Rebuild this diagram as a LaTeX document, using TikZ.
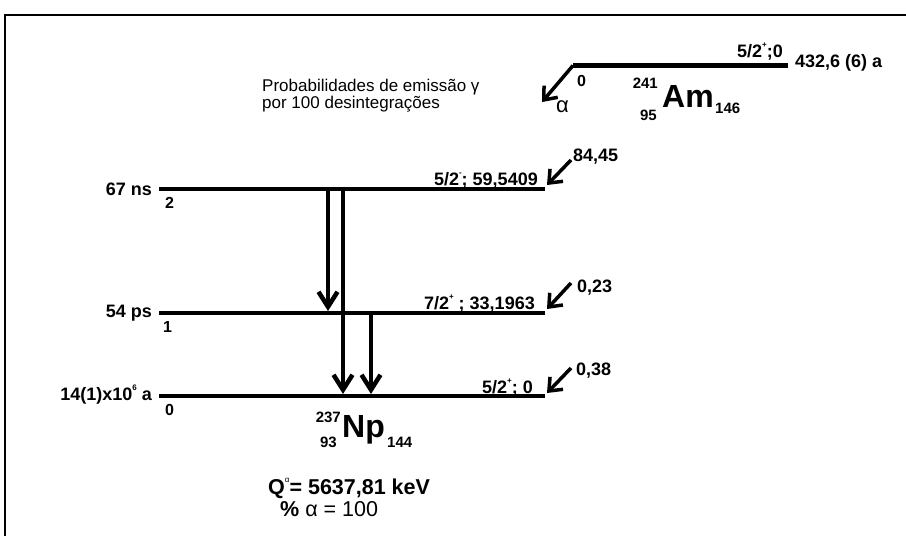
\documentclass[tikz,border=0pt]{standalone}
\usepackage{fontspec}
\setmainfont{Liberation Sans}
\usetikzlibrary{arrows.meta}
\newcommand\sps[1]{\raisebox{0.55em}{\fontsize{8}{8}\selectfont #1}}
\begin{document}
\begin{tikzpicture}[x=1pt,y=-1pt,
  levelline/.style={line width=4.5pt},
  gam/.style={line width=4.5pt,-{Straight Barb[length=15pt,width=19pt]}},
  feed/.style={line width=3.5pt,-{Straight Barb[length=11pt,width=18pt]}},
  lab/.style={font=\fontsize{18}{20}\selectfont\bfseries, inner sep=0pt},
  num/.style={font=\fontsize{16}{18}\selectfont\bfseries, inner sep=0pt},
  iso/.style={font=\fontsize{32}{34}\selectfont\bfseries, inner sep=0pt},
  isn/.style={font=\fontsize{15}{16}\selectfont\bfseries, inner sep=0pt},
  txt/.style={font=\fontsize{17}{18}\selectfont, inner sep=0pt, align=left},
  big/.style={font=\fontsize{21.5}{23}\selectfont, inner sep=0pt}]
\useasboundingbox (0,0) rectangle (906,536);
% frame
\draw[line width=2pt] (906,15) -- (5,15) -- (5,536);
% level coordinates
\coordinate (amL) at (573,65.5); \coordinate (amR) at (788,65.5);
\coordinate (l2L) at (159,189); \coordinate (l2R) at (545,189);
\coordinate (l1L) at (159,313); \coordinate (l1R) at (545,313);
\coordinate (l0L) at (159,396); \coordinate (l0R) at (545,396);
\draw[levelline] (amL) -- (amR);
\draw[levelline] (l2L) -- (l2R);
\draw[levelline] (l1L) -- (l1R);
\draw[levelline] (l0L) -- (l0R);
% alpha arrow
\coordinate (alphaTip) at (542,102);
\draw[feed] (amL) -- (alphaTip);
\node[anchor=base west, inner sep=0pt, font=\fontsize{22}{24}\selectfont] (alpha) at (556,112) {α};
% gamma transitions
\coordinate (g21s) at (328,189); \coordinate (g21e) at (328,311);
\coordinate (g20s) at (343,189); \coordinate (g20e) at (343,394);
\coordinate (g10s) at (371,313); \coordinate (g10e) at (371,394);
\draw[gam] (g21s) -- (g21e);
\draw[gam] (g20s) -- (g20e);
\draw[gam] (g10s) -- (g10e);
% feeding arrows
\coordinate (f2s) at (571,160); \coordinate (f2e) at (547,185);
\coordinate (f1s) at (571,283); \coordinate (f1e) at (547,309);
\coordinate (f0s) at (571,368); \coordinate (f0e) at (547,393);
\draw[feed] (f2s) -- (f2e);
\draw[feed] (f1s) -- (f1e);
\draw[feed] (f0s) -- (f0e);
\node[lab, anchor=base west] (p2) at (573,161) {84,45};
\node[lab, anchor=base west] (p1) at (577,292) {0,23};
\node[lab, anchor=base west] (p0) at (576,375) {0,38};
% level labels right
\node[lab, anchor=base east] (e2) at (538,185) {5/2\sps{-}; 59,5409};
\node[lab, anchor=base east] (e1) at (535,309) {7/2\sps{+} ; 33,1963};
\node[lab, anchor=base east] (e0) at (533,393) {5/2\sps{+}; 0};
% half-lives left
\node[lab, anchor=base east] (t2) at (152,195) {67 ns};
\node[lab, anchor=base east] (t1) at (152,317) {54 ps};
\node[lab, anchor=base east] (t0) at (152,400) {14(1)x10\sps{6} a};
% level numbers
\node[num, anchor=base west] (n2) at (165,208) {2};
\node[num, anchor=base west] (n1) at (163,332) {1};
\node[num, anchor=base west] (n0) at (165,415) {0};
% parent labels
\node[lab, anchor=base east] (amspin) at (783,57) {5/2\sps{+};0};
\node[lab, anchor=base west] (amhl) at (795,67) {432,6 (6) a};
\node[num, anchor=base west] (am0) at (577,86) {0};
\node[iso, anchor=base west] (Am) at (662,107) {Am};
\node[isn, anchor=base east] (AmA) at (658,88) {241};
\node[isn, anchor=base east] (AmZ) at (657,120) {95};
\node[isn, anchor=base west] (AmN) at (715,113) {146};
% daughter label
\node[iso, anchor=base west] (Np) at (342,437) {Np};
\node[isn, anchor=base east] (NpA) at (341,422) {237};
\node[isn, anchor=base east] (NpZ) at (337,447) {93};
\node[isn, anchor=base west] (NpN) at (387,447) {144};
% caption text
\node[txt, anchor=base west] (prob1) at (262,91) {Probabilidades de emissão γ};
\node[txt, anchor=base west] (prob2) at (262,108) {por 100 desintegrações};
\node[big, anchor=base west, font=\fontsize{21.5}{23}\selectfont\bfseries] (Q) at (268,494) {Q\sps{\mdseries α}= 5637,81 keV};
\node[big, anchor=base west] (pct) at (280,516) {\textbf{\%} α = 100};
\end{tikzpicture}
\end{document}
